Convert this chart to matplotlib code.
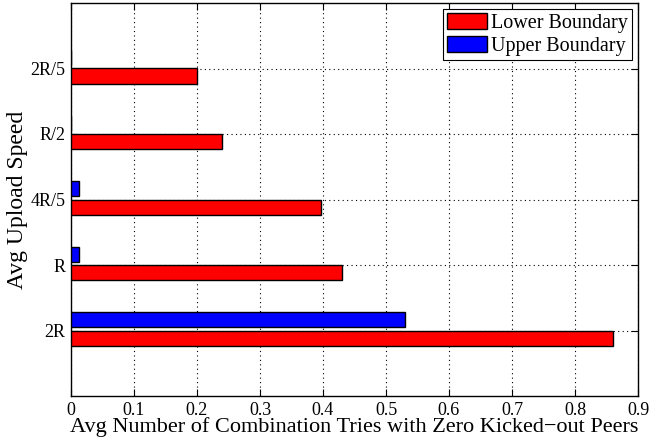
import matplotlib
matplotlib.use("Agg")
import matplotlib.pyplot as plt
import numpy as np

categories = ["2R", "R", "4R/5", "R/2", "2R/5"]
lower_boundary = [0.86, 0.43, 0.397, 0.24, 0.20]
upper_boundary = [0.53, 0.012, 0.012, 0.0, 0.0]
series_names = ["Lower Boundary", "Upper Boundary"]
xticks = [0, 0.1, 0.2, 0.3, 0.4, 0.5, 0.6, 0.7, 0.8, 0.9]
xtick_labels = ["0", "0.1", "0.2", "0.3", "0.4", "0.5", "0.6", "0.7", "0.8", "0.9"]

plt.rcParams['font.family'] = ['Liberation Serif', 'DejaVu Serif']

fig = plt.figure(figsize=(6.51, 4.41), dpi=100)
ax = fig.add_axes([71/651, 45/441, 567/651, 393/441])

y = np.arange(1, len(categories) + 1)
h = 0.235
ax.barh(y - h/2, lower_boundary, height=h, color='#ff0000', edgecolor='black',
        linewidth=1.0, label=series_names[0], zorder=3)
ax.barh(y + 0.05 + 0.23/2, upper_boundary, height=0.23, color='#0000ff', edgecolor='black',
        linewidth=1.0, label=series_names[1], zorder=3)

ax.set_xlim(0, 0.9)
ax.set_ylim(0, 6)
ax.set_xticks(xticks)
ax.set_xticklabels(xtick_labels)
ax.set_yticks(y)
ax.set_yticklabels(categories)
ax.tick_params(axis='both', which='both', direction='in', top=True, right=True,
               labelsize=13, length=5, width=0.8, pad=4)
ax.grid(True, linestyle=(0, (1, 3)), color='black', linewidth=0.8, zorder=0)
ax.set_axisbelow(True)
for s in ax.spines.values():
    s.set_linewidth(1.0)

ax.set_xlabel("Avg Number of Combination Tries with Zero Kicked\u2212out Peers", fontsize=16, labelpad=-1)
ax.set_ylabel("Avg Upload Speed", fontsize=17, labelpad=2)

leg = ax.legend(loc='upper right', fontsize=14.5, frameon=True, fancybox=False,
                edgecolor='black', framealpha=1, borderpad=0.2, labelspacing=0.15,
                handlelength=2.0, handleheight=0.85, handletextpad=0.2,
                borderaxespad=0.3)
leg.get_frame().set_linewidth(0.8)

fig.savefig("out.png", dpi=100)
